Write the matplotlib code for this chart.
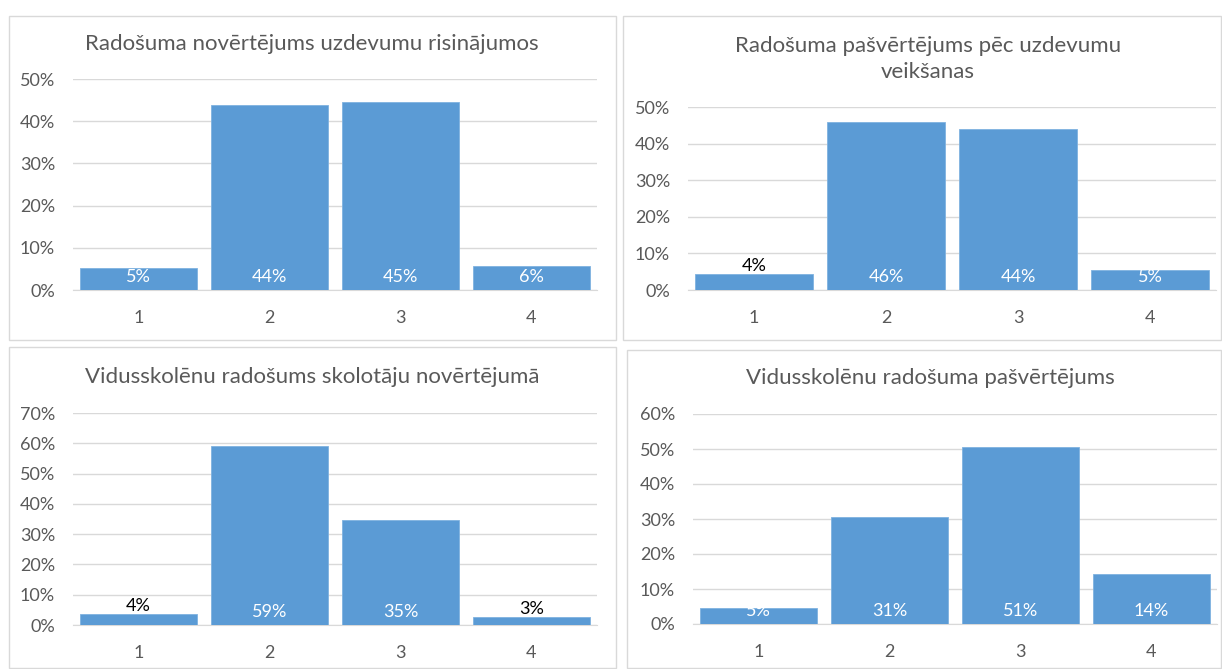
import matplotlib
matplotlib.use("Agg")
import matplotlib.pyplot as plt
from matplotlib.patches import Rectangle
from matplotlib.ticker import FuncFormatter

# Data
categories = ["1", "2", "3", "4"]
titles = [
    "Radošuma novērtējums uzdevumu risinājumos",
    "Radošuma pašvērtējums pēc uzdevumu\nveikšanas",
    "Vidusskolēnu radošums skolotāju novērtējumā",
    "Vidusskolēnu radošuma pašvērtējums",
]
task_eval = [0.053, 0.438, 0.446, 0.058]
task_self = [0.044, 0.459, 0.440, 0.054]
teacher_eval = [0.036, 0.591, 0.347, 0.027]
student_self = [0.046, 0.306, 0.506, 0.144]
series = [task_eval, task_self, teacher_eval, student_self]
y_max = [0.5, 0.5, 0.7, 0.6]

W, H = 1222, 669
DPI = 100
BAR = "#5b9bd5"
GRID = "#d9d9d9"
TXT = "#595959"
FONT = ["Lato", "DejaVu Sans"]
plt.rcParams["font.family"] = FONT

fig = plt.figure(figsize=(W / DPI, H / DPI), dpi=DPI)
fig.patch.set_facecolor("white")


def fx(px):
    return px / W


def fy(py):
    return 1 - py / H


# panel frames (x0, y0, x1, y1) in pixels
frames = [(9, 16, 616, 340), (623, 16, 1221, 340), (9, 347, 616, 668), (627, 350, 1221, 668)]
# plot areas (left, top, right, bottom) in pixels
areas = [(73, 79, 597, 290), (688, 107, 1216, 290), (73, 413, 597, 625), (693, 414, 1217, 624)]
title_pos = [(312, 44), (928, 59), (312, 377), (930, 378)]

for fr in frames:
    x0, y0, x1, y1 = fr
    fig.add_artist(Rectangle((fx(x0), fy(y1)), fx(x1 - x0), (y1 - y0) / H,
                             transform=fig.transFigure, fill=False,
                             edgecolor=GRID, linewidth=1))

for i, vals in enumerate(series):
    l, t, r, b = areas[i]
    ax = fig.add_axes([fx(l), fy(b), fx(r - l), (b - t) / H])
    x = range(len(categories))
    ax.bar(x, vals, width=0.9, color=BAR, edgecolor="#7fb2e0", linewidth=0.6, zorder=3)
    ax.set_xlim(-0.5, len(categories) - 0.5)
    ax.set_ylim(0, y_max[i])
    ax.set_yticks([k / 10 for k in range(int(round(y_max[i] * 10)) + 1)])
    ax.yaxis.set_major_formatter(FuncFormatter(lambda v, p: f"{v:.0%}"))
    ax.set_xticks(list(x))
    ax.set_xticklabels(categories)
    ax.grid(axis="y", color=GRID, linewidth=1, zorder=0)
    for s in ["top", "right", "left"]:
        ax.spines[s].set_visible(False)
    ax.spines["bottom"].set_color(GRID)
    ax.tick_params(length=0, colors=TXT, labelsize=13)
    ax.tick_params(axis="y", pad=13)
    ax.tick_params(axis="x", pad=14.5)
    ax.set_facecolor("none")
    for xi, v in zip(x, vals):
        label = f"{v:.0%}"
        if v < 0.045:
            ax.annotate(label, (xi, v), xytext=(0, 0), textcoords="offset points",
                        ha="center", va="bottom", color="black", fontsize=13, zorder=4)
        else:
            ax.annotate(label, (xi, 0), xytext=(0, 9.5), textcoords="offset points",
                        ha="center", va="center", color="white", fontsize=13, zorder=4)
    tx, ty = title_pos[i]
    fig.text(fx(tx), fy(ty), titles[i], ha="center", va="center", color=TXT,
             fontsize=16, linespacing=1.4)

fig.savefig("out.png", dpi=DPI, facecolor="white")
